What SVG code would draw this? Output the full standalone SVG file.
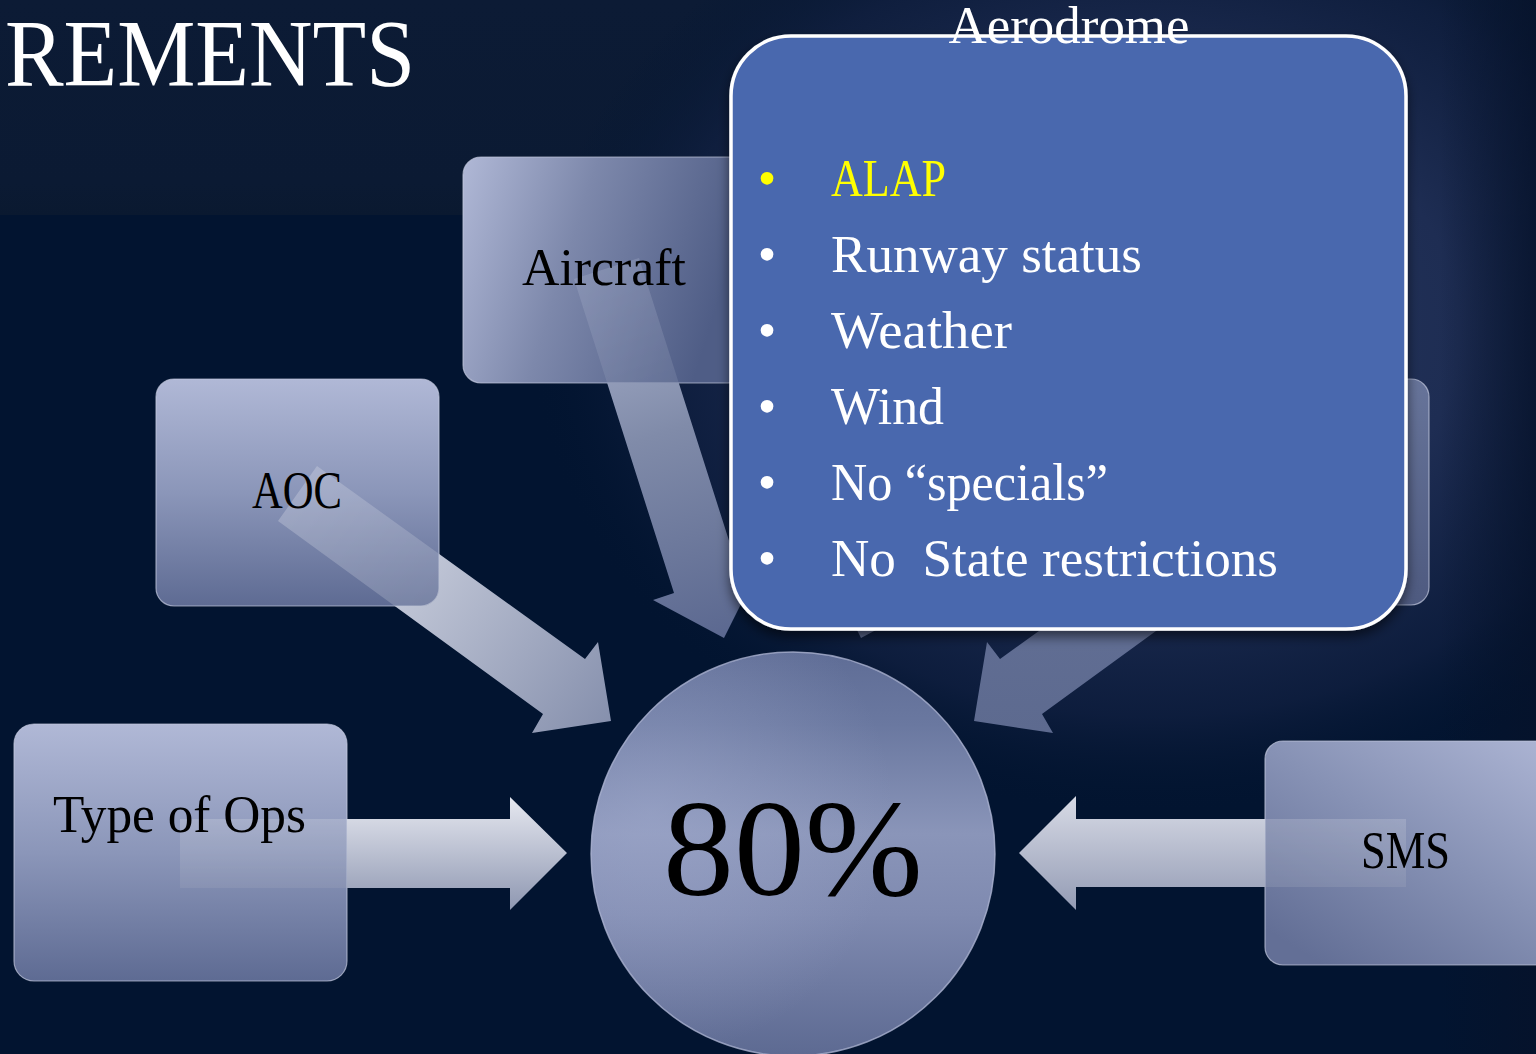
<svg xmlns="http://www.w3.org/2000/svg" width="1536" height="1054" viewBox="0 0 1536 1054">
<style>
  text { font-family: "Liberation Serif", "DejaVu Serif", serif; }
  .lbl { fill: #000; font-size: 52px; }
  .blt { fill: #fff; font-size: 53px; white-space: pre; }
  .box { stroke: #c3c9de; stroke-width: 1.2; stroke-opacity: 0.7; }
</style>
<defs>
  <radialGradient id="bgGlow" gradientUnits="userSpaceOnUse" cx="1150" cy="330" r="620" gradientTransform="translate(1150 330) scale(1 0.78) translate(-1150 -330)">
    <stop offset="0" stop-color="#27385f"/>
    <stop offset="0.5" stop-color="#1e2d53"/>
    <stop offset="0.8" stop-color="#101f40" stop-opacity="0.8"/>
    <stop offset="1" stop-color="#031530" stop-opacity="0"/>
  </radialGradient>
  <linearGradient id="rightDark" x1="0" y1="0" x2="1" y2="0">
    <stop offset="0" stop-color="#06122a" stop-opacity="0"/>
    <stop offset="1" stop-color="#06122a" stop-opacity="0.75"/>
  </linearGradient>
  <linearGradient id="topBand" x1="0" y1="0" x2="0" y2="1">
    <stop offset="0" stop-color="#0c1b35"/>
    <stop offset="0.85" stop-color="#0b1a33"/>
    <stop offset="1" stop-color="#0a1930"/>
  </linearGradient>
  <linearGradient id="gVert" x1="0" y1="0" x2="0" y2="1">
    <stop offset="0" stop-color="#b0b8d6"/>
    <stop offset="0.5" stop-color="#8b96b9"/>
    <stop offset="1" stop-color="#5e6b93"/>
  </linearGradient>
  <linearGradient id="gAircraftBox" x1="0" y1="0" x2="1" y2="0.25">
    <stop offset="0" stop-color="#b0b8d6"/>
    <stop offset="0.45" stop-color="#7d88ab"/>
    <stop offset="1" stop-color="#4f5d86"/>
  </linearGradient>
  <linearGradient id="gSmsBox" x1="1" y1="0" x2="0.2" y2="1">
    <stop offset="0" stop-color="#adb5d4"/>
    <stop offset="0.5" stop-color="#8792b5"/>
    <stop offset="1" stop-color="#636f96"/>
  </linearGradient>
  <linearGradient id="gHiddenBox" x1="0" y1="0" x2="0" y2="1">
    <stop offset="0" stop-color="#67749a"/>
    <stop offset="1" stop-color="#4e5a80"/>
  </linearGradient>
  <linearGradient id="gCircle" x1="0" y1="0" x2="0" y2="1">
    <stop offset="0" stop-color="#5f6d96"/>
    <stop offset="0.18" stop-color="#6a78a0"/>
    <stop offset="0.45" stop-color="#8a95b9"/>
    <stop offset="0.65" stop-color="#7f8ab0"/>
    <stop offset="1" stop-color="#5d6a92"/>
  </linearGradient>
  <radialGradient id="gCircleHi" cx="0.15" cy="0.4" r="0.6">
    <stop offset="0" stop-color="#a7b0d2" stop-opacity="0.45"/>
    <stop offset="1" stop-color="#a7b0d2" stop-opacity="0"/>
  </radialGradient>
  <linearGradient id="gH" x1="0" y1="0" x2="0" y2="1">
    <stop offset="0" stop-color="#e6e8f0"/>
    <stop offset="1" stop-color="#8e97b1"/>
  </linearGradient>
  <linearGradient id="gH2" x1="0" y1="0" x2="0" y2="1">
    <stop offset="0" stop-color="#d8dbe6"/>
    <stop offset="1" stop-color="#939bb4"/>
  </linearGradient>
  <linearGradient id="gAoc" gradientUnits="userSpaceOnUse" x1="300" y1="490" x2="611" y2="721">
    <stop offset="0" stop-color="#e2e5ee"/>
    <stop offset="1" stop-color="#8690ad"/>
  </linearGradient>
  <linearGradient id="gAir" gradientUnits="userSpaceOnUse" x1="607" y1="268" x2="724" y2="638">
    <stop offset="0" stop-color="#aeb6d0"/>
    <stop offset="0.45" stop-color="#808ba9"/>
    <stop offset="1" stop-color="#5b6890"/>
  </linearGradient>
  <linearGradient id="gDim" x1="0" y1="0" x2="0" y2="1">
    <stop offset="0" stop-color="#66739a"/>
    <stop offset="1" stop-color="#5d6a8f"/>
  </linearGradient>
  <mask id="boxMask" maskUnits="userSpaceOnUse" x="0" y="0" width="1536" height="1054">
    <rect x="0" y="0" width="1536" height="1054" fill="#fff"/>
    <g fill="#4a4a4a">
      <rect x="463" y="157" width="283" height="226" rx="18"/>
      <rect x="156" y="379" width="283" height="227" rx="18"/>
      <rect x="14" y="724" width="333" height="257" rx="20"/>
      <rect x="1265" y="741" width="290" height="224" rx="18"/>
      <rect x="1146" y="379" width="283" height="226" rx="18"/>
      <rect x="839" y="157" width="283" height="226" rx="18"/>
    </g>
  </mask>
  <filter id="shadow" x="-10%" y="-10%" width="120%" height="125%">
    <feDropShadow dx="0" dy="6" stdDeviation="6" flood-color="#000" flood-opacity="0.55"/>
  </filter>
</defs>

<!-- background -->
<rect x="0" y="0" width="1536" height="1054" fill="#021430"/>
<rect x="0" y="0" width="1536" height="215" fill="url(#topBand)"/>
<rect x="0" y="0" width="1536" height="1054" fill="url(#bgGlow)"/>
<rect x="1440" y="0" width="96" height="1054" fill="url(#rightDark)"/>

<text x="5" y="86" font-size="96" fill="#fff" textLength="410" lengthAdjust="spacingAndGlyphs">REMENTS</text>

<!-- nodes (boxes) -->
<g id="node-right-hidden">
  <rect class="box" x="1146" y="379" width="283" height="226" rx="18" fill="url(#gHiddenBox)"/>
</g>
<g id="node-aircraft">
  <rect class="box" x="463" y="157" width="283" height="226" rx="18" fill="url(#gAircraftBox)"/>
</g>
<g id="node-aoc">
  <rect class="box" x="156" y="379" width="283" height="227" rx="18" fill="url(#gVert)"/>
</g>
<g id="node-type-of-ops">
  <rect class="box" x="14" y="724" width="333" height="257" rx="20" fill="url(#gVert)"/>
</g>
<g id="node-sms">
  <rect class="box" x="1265" y="741" width="290" height="224" rx="18" fill="url(#gSmsBox)"/>
</g>

<!-- connectors -->
<g id="connectors" mask="url(#boxMask)">
  <polygon fill="url(#gH)" points="180,819 510,819 510,797 567,853 510,910 510,888 180,888"/>
  <polygon fill="url(#gH2)" points="1406,819 1076,819 1076,796 1019,853 1076,910 1076,887 1406,887"/>
  <polygon fill="url(#gAoc)" points="317,466 585,659 598,642 611,721 532,733 543,714 278,521"/>
  <polygon fill="url(#gAir)" points="639,258 739,572 760,566 724,638 653,600 674,593 574,279"/>
  <polygon fill="url(#gDim)" points="1268,466 1000,659 987,642 974,721 1053,733 1042,714 1307,521"/>
  <polygon fill="url(#gDim)" points="946,258 846,572 825,566 861,638 932,600 911,593 1011,279"/>
</g>

<!-- node labels (drawn above connector overlays) -->
<g id="node-aircraft-label">
  <text class="lbl" x="522" y="285" textLength="164" lengthAdjust="spacingAndGlyphs">Aircraft</text>
</g>
<g id="node-aoc-label">
  <text class="lbl" x="252" y="508" font-size="50" textLength="90" lengthAdjust="spacingAndGlyphs">AOC</text>
</g>
<g id="node-type-of-ops-label">
  <text class="lbl" x="53" y="832" textLength="253" lengthAdjust="spacingAndGlyphs">Type of Ops</text>
</g>
<g id="node-sms-label">
  <text class="lbl" x="1361" y="868" font-size="50" textLength="89" lengthAdjust="spacingAndGlyphs">SMS</text>
</g>

<g id="node-80">
  <circle cx="793" cy="854" r="202" fill="url(#gCircle)"/>
  <circle cx="793" cy="854" r="202" fill="url(#gCircleHi)" stroke="#aab2cf" stroke-width="1.5" stroke-opacity="0.8"/>
  <text x="793" y="895" font-size="138" fill="#000" text-anchor="middle" textLength="260" lengthAdjust="spacingAndGlyphs">80%</text>
</g>

<g id="node-aerodrome">
  <rect x="731" y="36" width="675" height="593" rx="60" fill="#4a67ae" stroke="#fff" stroke-width="3.5" filter="url(#shadow)"/>
  <text x="1069" y="43" font-size="52" fill="#fff" text-anchor="middle" textLength="241" lengthAdjust="spacingAndGlyphs">Aerodrome</text>
  <text class="blt" x="767" y="196" text-anchor="middle" style="fill:#ffff00">•</text>
  <text class="blt" x="831" y="196" style="fill:#ffff00" textLength="115" lengthAdjust="spacingAndGlyphs">ALAP</text>
  <text class="blt" x="767" y="272" text-anchor="middle">•</text>
  <text class="blt" x="831" y="272" textLength="311" lengthAdjust="spacingAndGlyphs">Runway status</text>
  <text class="blt" x="767" y="348" text-anchor="middle">•</text>
  <text class="blt" x="831" y="348" textLength="181" lengthAdjust="spacingAndGlyphs">Weather</text>
  <text class="blt" x="767" y="424" text-anchor="middle">•</text>
  <text class="blt" x="831" y="424" textLength="113" lengthAdjust="spacingAndGlyphs">Wind</text>
  <text class="blt" x="767" y="500" text-anchor="middle">•</text>
  <text class="blt" x="831" y="500" textLength="277" lengthAdjust="spacingAndGlyphs">No “specials”</text>
  <text class="blt" x="767" y="576" text-anchor="middle">•</text>
  <text class="blt" x="831" y="576" xml:space="preserve" textLength="447" lengthAdjust="spacingAndGlyphs">No  State restrictions</text>
</g>
</svg>
